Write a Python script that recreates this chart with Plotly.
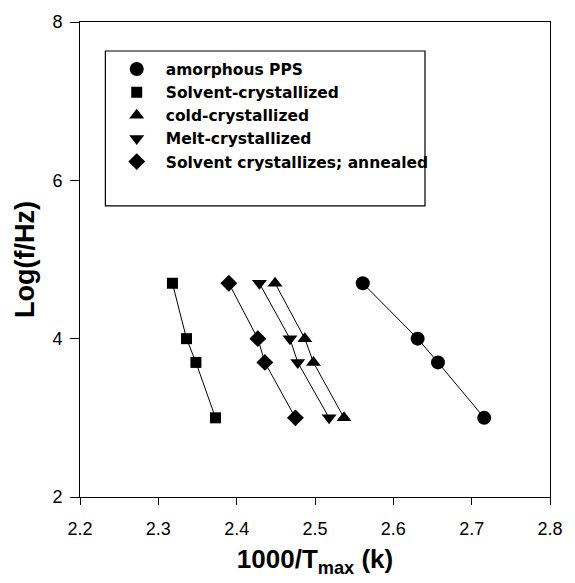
import plotly.graph_objects as go

# Data
y_levels = [4.7, 4.0, 3.7, 3.0]
x_amorphous = [2.561, 2.631, 2.657, 2.716]
x_solvent = [2.318, 2.336, 2.348, 2.373]
x_cold = [2.449, 2.487, 2.498, 2.537]
x_melt = [2.429, 2.468, 2.478, 2.518]
x_annealed = [2.390, 2.427, 2.436, 2.475]

series_names = ["amorphous PPS", "Solvent-crystallized", "cold-crystallized",
                "Melt-crystallized", "Solvent crystallizes; annealed"]
series_x = [x_amorphous, x_solvent, x_cold, x_melt, x_annealed]
symbols = ["circle", "square", "triangle-up", "triangle-down", "diamond"]
sizes = [14, 11, 13, 13, 13]

x_ticks = [2.2, 2.3, 2.4, 2.5, 2.6, 2.7, 2.8]
y_ticks = [2, 4, 6, 8]

FONT = "Liberation Sans, Arial, sans-serif"
LEGEND_FONT = "DejaVu Sans, Liberation Sans, sans-serif"

fig = go.Figure()
for name, xs in zip(series_names, series_x):
    fig.add_trace(go.Scatter(x=xs, y=y_levels, mode="lines",
                             line=dict(color="black", width=1),
                             showlegend=False, hoverinfo="skip"))
for name, xs, sym, sz in zip(series_names, series_x, symbols, sizes):
    fig.add_trace(go.Scatter(x=xs, y=y_levels, mode="markers", name=name,
                             marker=dict(symbol=sym, size=sz, color="black")))

fig.add_shape(type="rect", xref="paper", yref="paper",
              x0=0.054, x1=0.734, y0=0.613, y1=0.939,
              line=dict(color="black", width=1.2), fillcolor="rgba(0,0,0,0)")

axis_font = dict(family=FONT, size=18, color="black")
fig.update_layout(
    width=575, height=583,
    margin=dict(l=80, r=14, t=19, b=86),
    paper_bgcolor="white", plot_bgcolor="white",
    showlegend=True,
    legend=dict(x=0.059, y=0.936, xanchor="left", yanchor="top",
                bgcolor="rgba(0,0,0,0)", borderwidth=0,
                font=dict(family=LEGEND_FONT, size=15.5, color="black", weight="bold"),
                traceorder="normal", itemwidth=48),
    xaxis=dict(range=[2.2, 2.8], tickvals=x_ticks,
               ticktext=[f"{v:.1f}" for v in x_ticks],
               showgrid=False, zeroline=False,
               showline=True, linecolor="black", linewidth=1, mirror=True,
               ticks="outside", ticklen=7, tickcolor="black",
               ticklabelstandoff=8,
               tickfont=axis_font,
               title=dict(text="1000/T<sub>max</sub> (k)", standoff=12,
                          font=dict(family=FONT, size=26, color="black", weight="bold"))),
    yaxis=dict(range=[2, 8], tickvals=y_ticks,
               showgrid=False, zeroline=False,
               showline=True, linecolor="black", linewidth=1, mirror=True,
               ticks="outside", ticklen=9, tickcolor="black",
               ticklabelstandoff=4,
               tickfont=axis_font,
               title=dict(text="Log(f/Hz)", standoff=9,
                          font=dict(family=FONT, size=27, color="black", weight="bold"))),
)

fig.write_html("out.html")
